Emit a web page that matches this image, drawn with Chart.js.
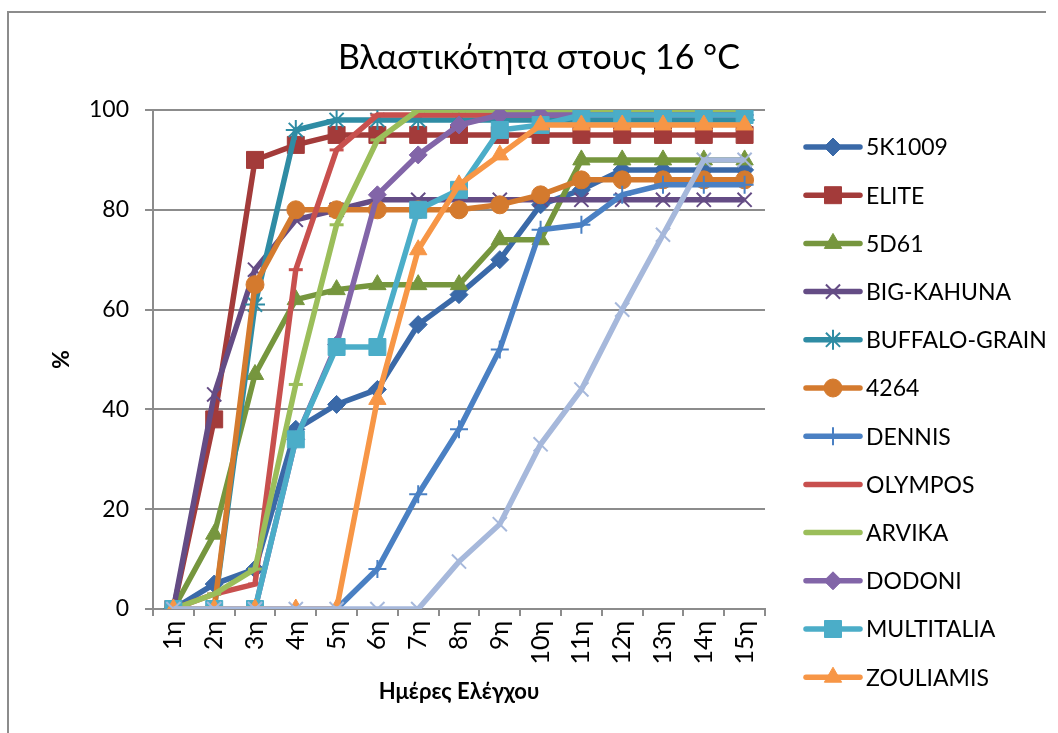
<!DOCTYPE html>
<html>
<head>
<meta charset="utf-8">
<script src="https://cdn.jsdelivr.net/npm/chart.js@4.4.1/dist/chart.umd.min.js"></script>
<style>
  html, body { margin: 0; padding: 0; background: #ffffff; }
  #wrap { position: relative; width: 1058px; height: 733px; }
</style>
</head>
<body>
<div id="wrap"><canvas id="c"></canvas></div>
<script>
// Days of the germination test
const days = ['1η','2η','3η','4η','5η','6η','7η','8η','9η','10η','11η','12η','13η','14η','15η'];

// Germination (%) per variety
const v5K1009      = [0, 5, 8, 36, 41, 44, 57, 63, 70, 81, 84, 88, 88, 88, 88];
const vElite       = [0, 38, 90, 93, 95, 95, 95, 95, 95, 95, 95, 95, 95, 95, 95];
const v5D61        = [0, 15, 47, 62, 64, 65, 65, 65, 74, 74, 90, 90, 90, 90, 90];
const vBigKahuna   = [0, 43, 68, 78, 80, 82, 82, 82, 82, 82, 82, 82, 82, 82, 82];
const vBuffalo     = [0, 0, 61, 96, 98, 98, 98, 98, 98, 98, 98, 98, 98, 98, 98];
const v4264        = [0, 0, 65, 80, 80, 80, 80, 80, 81, 83, 86, 86, 86, 86, 86];
const vDennis      = [0, 0, 0, 0, 0, 8, 23, 36, 52, 76, 77, 83, 85, 85, 85];
const vOlympos     = [0, 3, 5, 68, 92, 99, 99, 99, 99, 99, 99, 99, 99, 99, 99];
const vArvika      = [0, 3, 8, 45, 77, 94, 100, 100, 100, 100, 100, 100, 100, 100, 100];
const vDodoni      = [0, 0, 0, 34, 53, 83, 91, 97, 99, 99, 99, 99, 99, 99, 99];
const vMultitalia  = [0, 0, 0, 34, 52.5, 52.5, 80, 84, 96, 97, 99, 99, 99, 99, 99];
const vZouliamis   = [0, 0, 0, 0, 0, 42, 72, 85, 91, 97, 97, 97, 97, 97, 97];
const vSeries13    = [0, 0, 0, 0, 0, 0, 0, 9.5, 17, 33, 44, 60, 75, 90, 90];

// Y axis tick values
const yTicks = [0, 20, 40, 60, 80, 100];

const FONT = "Lato, 'Noto Sans', sans-serif";

function series(label, data, color, style, radius, bw, inLegend) {
  return {
    label, data,
    borderColor: color,
    backgroundColor: color,
    pointBackgroundColor: color,
    pointBorderColor: color,
    pointStyle: style,
    pointRadius: radius,
    pointHoverRadius: radius,
    pointBorderWidth: bw,
    borderWidth: 5.5,
    tension: 0,
    fill: false,
    yAxisID: 'y',
    inLegend
  };
}

const datasets = [
  series('5K1009',        v5K1009,     '#3A69A8', 'rectRot',  9, 1, true),
  series('ELITE',         vElite,      '#A33B3A', 'rect',    12, 1, true),
  series('5D61',          v5D61,       '#76963E', 'triangle',10, 1, true),
  series('BIG-KAHUNA',    vBigKahuna,  '#644C85', 'crossRot',10, 2, true),
  series('BUFFALO-GRAIN', vBuffalo,    '#2F8CA4', 'star',    10, 2, true),
  series('4264',          v4264,       '#D47A2E', 'circle',   9, 1, true),
  series('DENNIS',        vDennis,     '#4A80C3', 'cross',    9, 2, true),
  series('OLYMPOS',       vOlympos,    '#C8504E', 'line',     7, 3, true),
  series('ARVIKA',        vArvika,     '#9BBE5A', 'line',     7, 3, true),
  series('DODONI',        vDodoni,     '#8265A8', 'rectRot',  9, 1, true),
  series('MULTITALIA',    vMultitalia, '#4BADC8', 'rect',    12, 1, true),
  series('ZOULIAMIS',     vZouliamis,  '#F79646', 'triangle',10, 1, true),
  series('13',            vSeries13,   '#A6B8DB', 'crossRot',10, 2, false)
];
// later series are painted over earlier ones
datasets.forEach((d, i) => { d.order = datasets.length - i; });

// Legend on the right, drawn with each dataset's own line and marker style
const sideLegend = {
  id: 'sideLegend',
  afterDraw(chart) {
    const ctx = chart.ctx;
    const x0 = 806, x1 = 860, tx = 866, y0 = 147, step = 48.2;
    ctx.save();
    let row = 0;
    chart.data.datasets.forEach(ds => {
      if (!ds.inLegend) return;
      const y = y0 + row * step;
      ctx.strokeStyle = ds.borderColor;
      ctx.lineWidth = ds.borderWidth;
      ctx.lineCap = 'round';
      ctx.beginPath();
      ctx.moveTo(x0, y);
      ctx.lineTo(x1, y);
      ctx.stroke();
      ctx.lineCap = 'butt';
      ctx.fillStyle = ds.pointBackgroundColor;
      ctx.strokeStyle = ds.pointBorderColor;
      ctx.lineWidth = ds.pointBorderWidth;
      Chart.helpers.drawPoint(ctx, {
        pointStyle: ds.pointStyle,
        radius: ds.pointRadius,
        rotation: 0,
        borderWidth: ds.pointBorderWidth
      }, (x0 + x1) / 2, y);
      ctx.fillStyle = '#000000';
      ctx.font = '23px ' + FONT;
      ctx.textAlign = 'left';
      ctx.textBaseline = 'middle';
      ctx.fillText(ds.label, tx, y + 1);
      row++;
    });
    ctx.restore();
  }
};

// Outer frame of the chart
const frame = {
  id: 'frame',
  beforeDraw(chart) {
    const ctx = chart.ctx;
    ctx.save();
    ctx.strokeStyle = '#8c8c8c';
    ctx.lineWidth = 2;
    ctx.beginPath();
    ctx.moveTo(8, 733);
    ctx.lineTo(8, 12);
    ctx.lineTo(1046, 12);
    ctx.stroke();
    ctx.restore();
  }
};

new Chart(document.getElementById('c'), {
  type: 'line',
  data: { labels: days, datasets },
  plugins: [frame, sideLegend],
  options: {
    responsive: true,
    maintainAspectRatio: false,
    animation: false,
    layout: { padding: { left: 20, right: 0, top: 0, bottom: 0 } },
    plugins: {
      legend: { display: false },
      tooltip: { enabled: false },
      title: {
        display: true,
        text: 'Βλαστικότητα στους 16 °C',
        color: '#000000',
        font: { family: FONT, size: 34, weight: 'normal', lineHeight: 1.2 },
        padding: { top: 37.6, bottom: 31.6 }
      }
    },
    scales: {
      x: {
        type: 'category',
        offset: true,
        border: { display: true, color: '#8c8c8c', width: 2 },
        grid: {
          offset: true,
          drawOnChartArea: false,
          drawTicks: true,
          tickLength: 7,
          color: '#8c8c8c',
          lineWidth: 2
        },
        ticks: {
          color: '#000000',
          font: { family: FONT, size: 25 },
          minRotation: 90,
          maxRotation: 90,
          padding: 5,
          autoSkip: false
        },
        title: {
          display: true,
          text: 'Ημέρες Ελέγχου',
          color: '#000000',
          font: { family: FONT, size: 22, weight: 'bold', lineHeight: 1.2 },
          padding: { top: 0, bottom: 28 }
        },
        afterFit(scale) { scale.height = 733 - 609; }
      },
      y: {
        min: 0,
        max: 100,
        afterBuildTicks(scale) { scale.ticks = yTicks.map(v => ({ value: v })); },
        border: { display: true, color: '#8c8c8c', width: 2 },
        grid: {
          color: '#8c8c8c',
          lineWidth: 2,
          drawTicks: true,
          tickLength: 8
        },
        ticks: {
          color: '#000000',
          font: { family: FONT, size: 23 },
          padding: 16
        },
        title: {
          display: true,
          text: '%',
          color: '#000000',
          font: { family: FONT, size: 23, weight: 'bold', lineHeight: 1.2 },
          padding: { top: 28, bottom: 0 }
        },
        afterFit(scale) { scale.width = 153 - 20; }
      },
      // empty right-hand band that holds the legend
      legendBand: {
        type: 'linear',
        position: 'right',
        display: true,
        grid: { display: false, drawOnChartArea: false },
        border: { display: false },
        ticks: { display: false },
        afterFit(scale) { scale.width = 1058 - 765; }
      }
    }
  }
});
</script>
</body>
</html>
